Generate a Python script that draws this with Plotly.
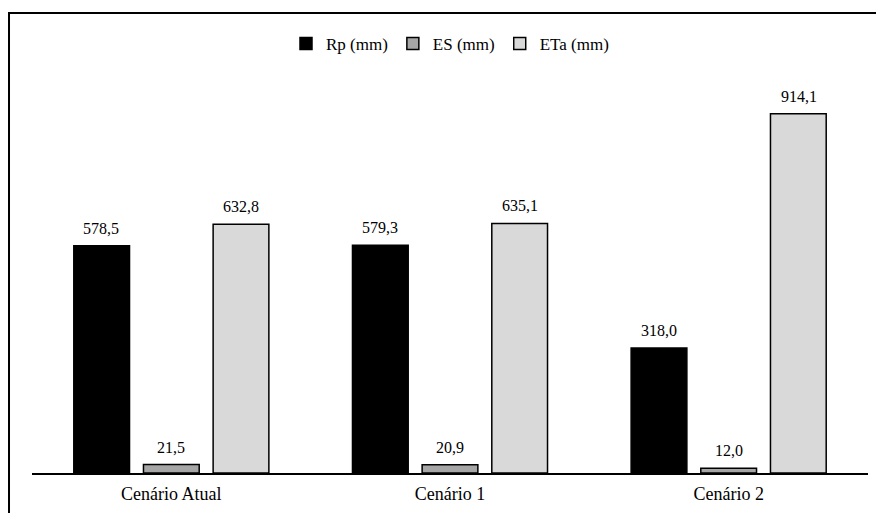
import plotly.graph_objects as go

cenarios = ["Cenário Atual", "Cenário 1", "Cenário 2"]
rp_mm = [578.5, 579.3, 318.0]
es_mm = [21.5, 20.9, 12.0]
eta_mm = [632.8, 635.1, 914.1]

series = [
    ("Rp (mm)", rp_mm, "#000000"),
    ("ES (mm)", es_mm, "#a6a6a6"),
    ("ETa (mm)", eta_mm, "#d9d9d9"),
]

font_family = "Liberation Serif"
slot_px = 70  # horizontal distance between bars in a group

fig = go.Figure()
annotations = []
for i, (name, vals, color) in enumerate(series):
    fig.add_trace(go.Bar(
        x=cenarios, y=vals, name=name,
        marker=dict(color=color, line=dict(color="#000000", width=1.5)),
    ))
    for cat, v in zip(cenarios, vals):
        annotations.append(dict(
            x=cat, y=v, xref="x", yref="y", text=f"{v:.1f}".replace(".", ","),
            showarrow=False, yanchor="bottom", yshift=7, xshift=(i - 1) * slot_px,
            font=dict(family=font_family, size=16, color="#000000"),
        ))

fig.update_layout(
    width=876, height=513,
    margin=dict(l=32, r=8, t=80, b=40),
    paper_bgcolor="white", plot_bgcolor="white",
    barmode="group", bargap=0.25, bargroupgap=0.2,
    font=dict(family=font_family, size=16, color="#000000"),
    legend=dict(orientation="h", x=0.5, xanchor="center", y=1.092, yanchor="middle",
                font=dict(family=font_family, size=17), itemwidth=30,
                traceorder="normal"),
    xaxis=dict(showline=True, linecolor="#000000", linewidth=1.5, ticks="",
               ticklabelstandoff=4,
               tickfont=dict(family=font_family, size=18), showgrid=False),
    yaxis=dict(range=[0, 1000], visible=False, showgrid=False),
    annotations=annotations,
    shapes=[dict(type="rect", xref="paper", yref="paper",
                 x0=-0.0275, x1=1.2, y0=-0.3, y1=1.1705,
                 line=dict(color="#000000", width=2), fillcolor="rgba(0,0,0,0)")],
)

fig.write_html("out.html")
